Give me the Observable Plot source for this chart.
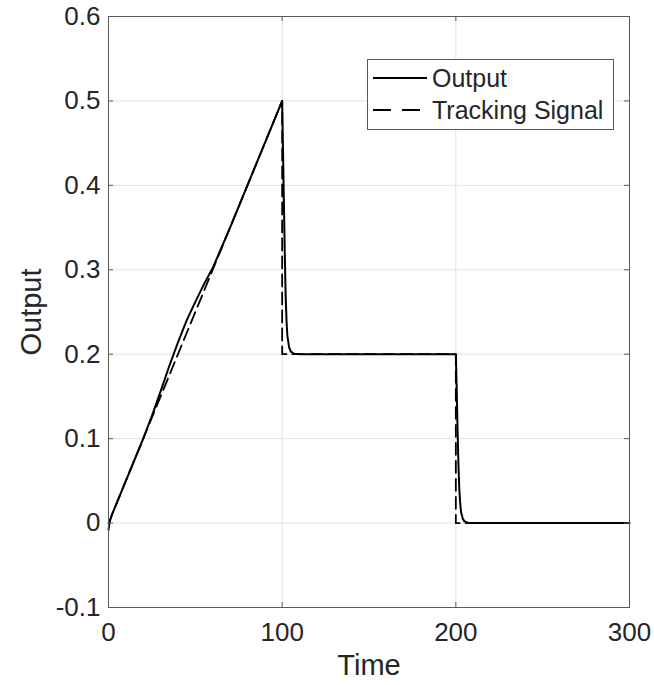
<!DOCTYPE html>
<html>
<head>
<meta charset="utf-8">
<script src="https://cdn.jsdelivr.net/npm/d3@7"></script>
<script src="https://cdn.jsdelivr.net/npm/@observablehq/plot@0.6"></script>
<style>
  html, body { margin: 0; padding: 0; background: #fff; }
  #chart { width: 654px; height: 685px; }
</style>
</head>
<body>
<div id="chart"></div>
<script>
// Tracking reference: ramp, step down to 0.2, step down to 0
const trackTime  = [0, 100, 100, 200, 200, 300];
const trackValue = [0, 0.5, 0.2, 0.2, 0, 0];

// Closed-loop system output
const outTime = [0, 0.5, 2, 5, 10, 15, 20, 25, 30, 35, 40, 45, 50, 55, 60, 70, 80, 90, 100,
  100.5, 101, 101.5, 102, 102.5, 103, 104, 105, 107, 110, 150, 200,
  200.5, 201, 201.5, 202, 202.5, 203, 204, 205, 207, 210, 250, 300];
const outValue = [-0.008, 0.0, 0.01, 0.025, 0.05, 0.075, 0.1, 0.127, 0.156, 0.186, 0.214, 0.24, 0.262, 0.283, 0.302, 0.35, 0.4, 0.45, 0.5,
  0.44, 0.38, 0.32, 0.27, 0.24, 0.222, 0.208, 0.203, 0.2005, 0.2, 0.2, 0.2,
  0.16, 0.11, 0.07, 0.04, 0.024, 0.013, 0.005, 0.002, 0.0005, 0, 0, 0];

const xTicks = [0, 100, 200, 300];
const yTicks = [-0.1, 0, 0.1, 0.2, 0.3, 0.4, 0.5, 0.6];

const seriesNames = ["Output", "Tracking Signal"];

const tracking = trackTime.map((t, i) => ({t, v: trackValue[i]}));
const output = outTime.map((t, i) => ({t, v: outValue[i]}));

const W = 654, H = 685;
const mL = 108, mR = 25, mT = 16, mB = 78;
const innerH = H - mT - mB;
const innerW = W - mL - mR;
const tickLen = 5;
const axisColor = "#5a5a5a";
const textColor = "#262626";
const font = "'Liberation Sans', Arial, Helvetica, sans-serif";

// Legend box drawn in the upper-right corner of the axes
function legend(index, scales, values, dim) {
  const g = d3.create("svg:g");
  const bx = dim.width - dim.marginRight - 16 - 246;
  const by = dim.marginTop + 43;
  g.append("rect")
    .attr("x", bx + 0.5).attr("y", by + 0.5)
    .attr("width", 246).attr("height", 70)
    .attr("fill", "#fff").attr("stroke", axisColor).attr("stroke-width", 1);
  const rows = [
    {name: seriesNames[0], dash: null, y: by + 19},
    {name: seriesNames[1], dash: "18,11", y: by + 51}
  ];
  for (const r of rows) {
    g.append("line")
      .attr("x1", bx + 6).attr("x2", bx + 60)
      .attr("y1", r.y).attr("y2", r.y)
      .attr("stroke", "#000").attr("stroke-width", 2)
      .attr("stroke-dasharray", r.dash);
    g.append("text")
      .attr("x", bx + 65).attr("y", r.y)
      .attr("text-anchor", "start")
      .attr("dominant-baseline", "central")
      .attr("font-size", 25).attr("fill", textColor)
      .attr("font-family", font)
      .text(r.name);
  }
  return g.node();
}

const chart = Plot.plot({
  width: W,
  height: H,
  marginLeft: mL,
  marginRight: mR,
  marginTop: mT,
  marginBottom: mB,
  style: {fontFamily: font, color: textColor, background: "#fff"},
  x: {domain: [0, 300]},
  y: {domain: [-0.1, 0.6]},
  marks: [
    // grid
    Plot.ruleX(xTicks, {x: d => d, stroke: "#e3e3e3", strokeWidth: 1}),
    Plot.ruleY(yTicks, {y: d => d, stroke: "#e3e3e3", strokeWidth: 1}),
    // data
    Plot.line(tracking, {x: "t", y: "v", stroke: "#000", strokeWidth: 1.8, strokeDasharray: "12,6", curve: "linear"}),
    Plot.line(output, {x: "t", y: "v", stroke: "#000", strokeWidth: 2, curve: "linear"}),
    // box
    Plot.frame({stroke: axisColor, strokeWidth: 1}),
    // inward tick marks on all four sides
    Plot.tickX(xTicks, {x: d => d, stroke: axisColor, insetTop: innerH - tickLen}),
    Plot.tickX(xTicks, {x: d => d, stroke: axisColor, insetBottom: innerH - tickLen}),
    Plot.tickY(yTicks, {y: d => d, stroke: axisColor, insetRight: innerW - tickLen}),
    Plot.tickY(yTicks, {y: d => d, stroke: axisColor, insetLeft: innerW - tickLen}),
    // tick labels
    Plot.axisX({ticks: xTicks, tickSize: 0, tickPadding: 15, fontSize: 26, label: null, tickFormat: d => String(d)}),
    Plot.axisY({ticks: yTicks, tickSize: 0, tickPadding: 8, fontSize: 26, label: null, tickFormat: d => String(d)}),
    // axis titles
    Plot.text(["Time"], {frameAnchor: "bottom", lineAnchor: "middle", dy: 58, fontSize: 29, fill: textColor}),
    Plot.text(["Output"], {frameAnchor: "left", textAnchor: "middle", lineAnchor: "middle", dx: -77, rotate: -90, fontSize: 29, fill: textColor}),
    legend
  ]
});

document.getElementById("chart").append(chart);
</script>
</body>
</html>
